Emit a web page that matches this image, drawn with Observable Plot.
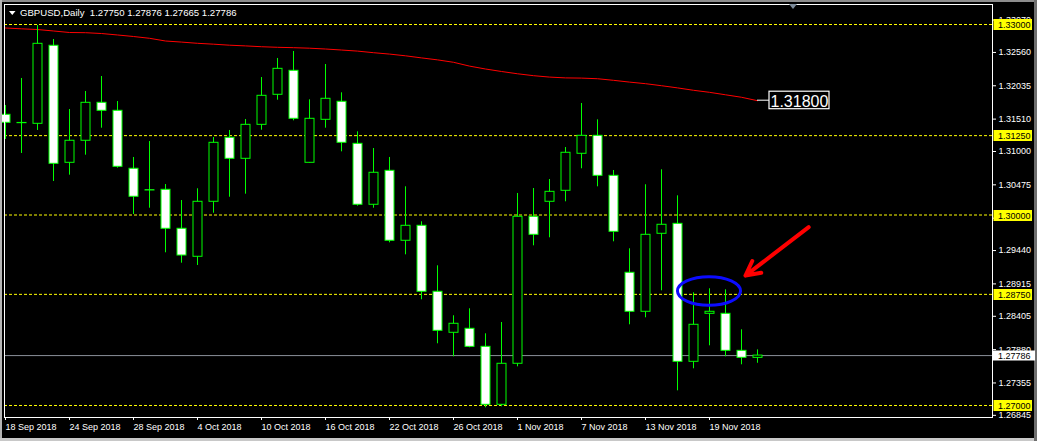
<!DOCTYPE html>
<html><head><meta charset="utf-8">
<script src="https://cdn.jsdelivr.net/npm/d3@7"></script>
<script src="https://cdn.jsdelivr.net/npm/@observablehq/plot@0.6"></script>
<style>html,body{margin:0;padding:0;background:#000;overflow:hidden}svg{display:block}</style>
</head><body><div id="chart"></div>
<script>
const symbol = "GBPUSD,Daily";
const dates = [
"2018-09-18","2018-09-19","2018-09-20","2018-09-21",
"2018-09-24","2018-09-25","2018-09-26","2018-09-27","2018-09-28",
"2018-10-01","2018-10-02","2018-10-03","2018-10-04","2018-10-05",
"2018-10-08","2018-10-09","2018-10-10","2018-10-11","2018-10-12",
"2018-10-15","2018-10-16","2018-10-17","2018-10-18","2018-10-19",
"2018-10-22","2018-10-23","2018-10-24","2018-10-25","2018-10-26",
"2018-10-29","2018-10-30","2018-10-31","2018-11-01","2018-11-02",
"2018-11-05","2018-11-06","2018-11-07","2018-11-08","2018-11-09",
"2018-11-12","2018-11-13","2018-11-14","2018-11-15","2018-11-16",
"2018-11-19","2018-11-20","2018-11-21","2018-11-22"];
const open = [
1.31578,1.31450,1.31436,1.32665,1.30822,1.31169,1.31767,1.31641,1.30728,1.30390,
1.30397,1.29783,1.29342,1.30208,1.31216,1.30885,1.31420,1.31893,1.32271,1.30822,
1.31499,1.31783,1.31121,1.30161,1.30696,1.29594,1.29830,1.28791,1.28145,1.28208,
1.27924,1.27011,1.27657,1.29972,1.30208,1.30381,1.30964,1.31247,1.30617,1.29090,
1.28476,1.29704,1.29861,1.27688,1.28444,1.28444,1.27861,1.27750];
const high = [
1.31724,1.32150,1.32984,1.32764,1.31661,1.31945,1.32181,1.31787,1.30906,1.31157,
1.30480,1.30228,1.30413,1.31220,1.31331,1.31504,1.32165,1.32465,1.32575,1.31814,
1.32370,1.31924,1.31310,1.31047,1.30906,1.30444,1.29893,1.29200,1.28413,1.28523,
1.28129,1.28307,1.30339,1.30417,1.30559,1.31063,1.31756,1.31499,1.30701,1.29468,
1.30476,1.30712,1.30302,1.28775,1.28838,1.28822,1.28192,1.27876];
const low = [
1.31189,1.30969,1.31331,1.30528,1.30627,1.30942,1.31367,1.30737,1.30008,1.30107,
1.29405,1.29241,1.29205,1.30028,1.30280,1.30328,1.31335,1.31808,1.31483,1.30815,
1.31367,1.30995,1.30139,1.30107,1.29562,1.29373,1.28665,1.27972,1.27767,1.27909,
1.26964,1.26980,1.27609,1.29515,1.29641,1.30208,1.30728,1.30444,1.29578,1.28271,
1.28381,1.28806,1.27231,1.27578,1.27940,1.27767,1.27641,1.27665];
const close = [
1.31452,1.31446,1.32696,1.30806,1.31169,1.31767,1.31641,1.30759,1.30287,1.30386,
1.29783,1.29362,1.30208,1.31137,1.30885,1.31420,1.31877,1.32302,1.31515,1.31515,
1.31830,1.31137,1.30161,1.30665,1.29594,1.29830,1.28791,1.28176,1.28287,1.27924,
1.27011,1.27657,1.29972,1.29688,1.30365,1.30980,1.31247,1.30617,1.29735,1.28476,
1.29688,1.29846,1.27688,1.28271,1.28476,1.27861,1.27751,1.27786];
const ma = [
1.32945,1.32932,1.32921,1.32898,1.32874,1.32871,1.32858,1.32835,1.32811,1.32783,
1.32740,1.32723,1.32704,1.32690,1.32674,1.32663,1.32650,1.32641,1.32635,1.32627,
1.32614,1.32598,1.32581,1.32556,1.32534,1.32507,1.32474,1.32443,1.32405,1.32345,
1.32299,1.32260,1.32224,1.32194,1.32172,1.32159,1.32156,1.32146,1.32121,1.32093,
1.32068,1.32036,1.32002,1.31964,1.31932,1.31893,1.31854,1.31800];
const yTicks = [1.33070,1.32560,1.32035,1.31510,1.31000,1.30475,1.29950,1.29440,1.28915,1.28405,1.27880,1.27355,1.26845];
const xTickDates = ["2018-09-18","2018-09-24","2018-09-28","2018-10-04","2018-10-10","2018-10-16","2018-10-22","2018-10-26","2018-11-01","2018-11-07","2018-11-13","2018-11-19"];
const levels = [1.33000,1.31250,1.30000,1.28750,1.27000];
const arrowNote = [{x1: 50.2, y1: 1.29808, x2: 46.25, y2: 1.29047}];
const ellipseNote = {index: 44, price: 1.28795, halfBars: 1.97, halfPrice: 0.00225};
const chartShiftIndex = 49.25;

const n = dates.length;
const bars = d3.range(n);
const bid = close[n - 1];
const fmt = d3.format(".5f");
const dateFmt = d3.utcFormat("%-d %b %Y");
const xTicks = xTickDates.map(d => dates.indexOf(d));
const FONT = "'Liberation Sans', Arial, sans-serif";

function overlay(index, scales, values, dim) {
  const X = scales.x, Y = scales.y;
  const W = dim.width, H = dim.height;
  const right = W - dim.marginRight;
  const g = d3.create("svg:g").attr("font-family", FONT).attr("font-size", 9).attr("text-anchor", "start");
  // window border
  g.append("rect").attr("x", 0).attr("y", 0).attr("width", W).attr("height", 2).attr("fill", "#8c8c8c");
  g.append("rect").attr("x", 0).attr("y", 0).attr("width", 2).attr("height", H).attr("fill", "#b4b4b4");
  g.append("rect").attr("x", 0).attr("y", H - 3).attr("width", W).attr("height", 3).attr("fill", "#c8c8c8");
  g.append("rect").attr("x", W - 3).attr("y", 0).attr("width", 3).attr("height", H).attr("fill", "#6e6e6e");
  // level labels
  for (const lv of levels) {
    const yy = Math.round(Y(lv)) + 0.5;
    g.append("rect").attr("x", right + 1.5).attr("y", yy - 5.5).attr("width", 38.5).attr("height", 11).attr("fill", "#ffff00");
    g.append("text").attr("x", right + 6).attr("y", yy).attr("dy", "0.35em").attr("fill", "#000").text(fmt(lv));
  }
  // bid label
  const by = Math.round(Y(bid)) + 0.5;
  g.append("rect").attr("x", right + 1).attr("y", by - 5).attr("width", 42).attr("height", 10).attr("fill", "#ffffff");
  g.append("text").attr("x", right + 6).attr("y", by).attr("dy", "0.35em").attr("fill", "#000").text(fmt(bid));
  // MA value label
  const lx = X(n - 1), ly = Y(ma[n - 1]);
  g.append("line").attr("x1", lx).attr("x2", lx + 12).attr("y1", ly).attr("y2", ly).attr("stroke", "#fff");
  g.append("rect").attr("x", lx + 12).attr("y", ly - 9).attr("width", 60).attr("height", 17.5)
    .attr("fill", "#000").attr("stroke", "#fff").attr("stroke-width", 1.2);
  g.append("text").attr("x", lx + 13.5).attr("y", ly + 7).attr("fill", "#fff").attr("font-size", 16).text(fmt(ma[n - 1]));
  // ellipse annotation
  const e = ellipseNote;
  g.append("ellipse").attr("cx", X(e.index)).attr("cy", Y(e.price))
    .attr("rx", X(e.index + e.halfBars) - X(e.index)).attr("ry", Y(e.price - e.halfPrice) - Y(e.price))
    .attr("fill", "none").attr("stroke", "#0c0cff").attr("stroke-width", 3);
  // chart shift marker
  const sx = X(chartShiftIndex);
  g.append("path").attr("d", `M${sx - 4},4L${sx + 4},4L${sx},9Z`).attr("fill", "#7d8b9a");
  // header
  g.append("path").attr("d", "M9,11L15.5,11L12.25,15Z").attr("fill", "#fff");
  g.append("text").attr("x", 20).attr("y", 16).attr("fill", "#fff").attr("font-size", 9.6)
    .style("white-space", "pre")
    .text(`${symbol}  ${fmt(open[n-1])} ${fmt(high[n-1])} ${fmt(low[n-1])} ${fmt(close[n-1])}`);
  return g.node();
}

const chart = Plot.plot({
  width: 1037,
  height: 441,
  marginLeft: 4,
  marginRight: 45,
  marginTop: 4,
  marginBottom: 24,
  style: {background: "#000", color: "#fff", fontFamily: FONT, fontSize: "9px", overflow: "visible"},
  x: {type: "linear", domain: [-1 / 16, 987 / 16]},
  y: {domain: [1.26811, 1.33315]},
  marks: [
    Plot.ruleY(levels, {stroke: "#ffff00", strokeDasharray: "3,2"}),
    Plot.ruleY([bid], {stroke: "#8a9099"}),
    Plot.line(bars, {x: i => i, y: i => ma[i], stroke: "#ff0000", strokeWidth: 1}),
    Plot.ruleX(bars, {x: i => i, y1: i => low[i], y2: i => high[i], stroke: "#00ff00", strokeWidth: 1}),
    Plot.rect(bars, {
      x1: i => i - 0.25, x2: i => i + 0.3125,
      y1: i => open[i], y2: i => close[i],
      fill: i => close[i] < open[i] ? "#ffffff" : "#000000",
      stroke: "#00ff00", strokeWidth: 1
    }),
    Plot.frame({stroke: "#fff"}),
    Plot.axisX({ticks: xTicks, tickFormat: i => dateFmt(new Date(dates[i])), tickSize: 3, tickPadding: 3, textAnchor: "start", label: null}),
    Plot.axisY({anchor: "right", ticks: yTicks, tickFormat: fmt, tickSize: 3, tickPadding: 3, label: null}),
    Plot.arrow(arrowNote, {x1: "x1", y1: "y1", x2: "x2", y2: "y2", stroke: "#ff0000", strokeWidth: 4, headLength: 6, headAngle: 55}),
    overlay
  ]
});
document.getElementById("chart").appendChild(chart);
</script>
</body></html>
